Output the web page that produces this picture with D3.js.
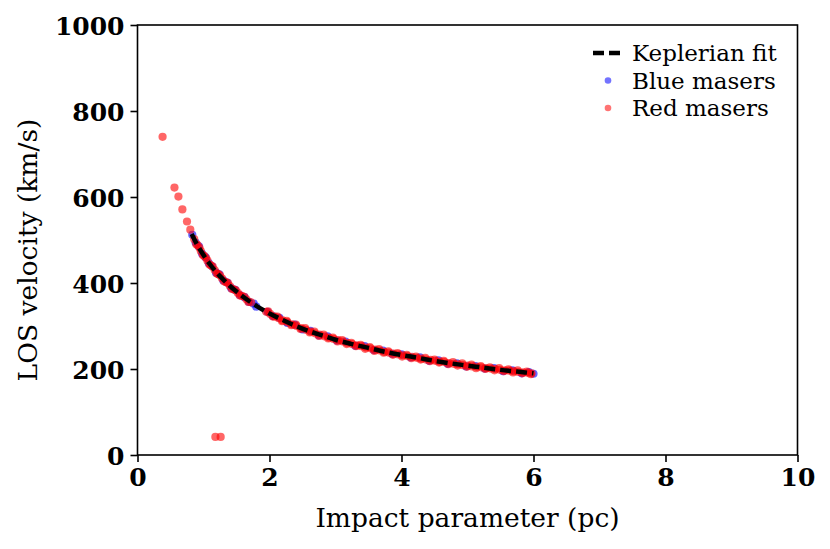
<!DOCTYPE html>
<html>
<head>
<meta charset="utf-8">
<script src="https://cdn.jsdelivr.net/npm/d3@7"></script>
<style>
  body { margin: 0; background: #fff; }
  text { font-family: "DejaVu Serif", "Liberation Serif", serif; }
</style>
</head>
<body>
<div id="chart"></div>
<script>
// Keplerian rotation curve: LOS velocity vs impact parameter

const xTicks = [0, 2, 4, 6, 8, 10];
const yTicks = [0, 200, 400, 600, 800, 1000];

// Keplerian fit (dashed line)
const fitR = [0.82, 0.9, 1.0, 1.1, 1.2, 1.3, 1.4, 1.5, 1.6, 1.7, 1.8, 2.0, 2.2, 2.4, 2.6, 2.8, 3.0,
  3.25, 3.5, 3.75, 4.0, 4.25, 4.5, 4.75, 5.0, 5.25, 5.5, 5.75, 6.0];
const fitV = [514, 490, 465, 443, 424, 408, 393, 380, 368, 357, 347, 329, 314, 300, 288, 278, 268,
  258, 249, 240, 232.5, 226, 219, 213, 208, 203, 198, 194, 190];

// Blue masers
const blueR = [0.83, 0.88, 0.93, 0.98, 1.03, 1.08, 1.13, 1.19, 1.24, 1.30, 1.36, 1.42, 1.48, 1.55,
  1.62, 1.69, 1.76, 1.80, 1.97, 2.05, 2.15, 2.27, 2.38, 2.50, 2.62, 2.75, 2.88, 3.02, 3.15, 3.30,
  3.44, 3.58, 3.72, 3.86, 4.00, 4.14, 4.28, 4.42, 4.56, 4.70, 4.84, 4.98, 5.12, 5.26, 5.40, 5.54,
  5.68, 5.82, 5.93, 6.00];
const blueV = [512, 494, 485, 468, 460, 446, 439, 424, 420, 406, 401, 388, 384, 372,
  367, 356, 352, 345, 333, 323, 319, 307, 303, 292, 289, 278, 276, 266, 264, 254,
  253, 244, 243, 235, 234, 227, 227, 219, 220, 212, 213, 206, 207, 201, 202, 195,
  197, 190, 193, 189];

// Red masers
const redR = [0.38, 0.56, 0.62, 0.68, 0.75, 0.80, 0.86, 0.91, 0.96, 1.01, 1.06, 1.11, 1.17, 1.22,
  1.28, 1.34, 1.40, 1.46, 1.52, 1.58, 1.65, 1.72,
  0.89, 0.94, 0.99, 1.04, 1.09, 1.14, 1.20, 1.25, 1.31, 1.37, 1.43, 1.49, 1.55, 1.62, 1.68,
  1.95, 2.01, 2.08, 2.14, 2.20, 2.27, 2.34, 2.41, 2.48, 2.55, 2.62, 2.69, 2.76, 2.83, 2.90, 2.97,
  3.04, 3.11, 3.18, 3.25, 3.32, 3.39, 3.46, 3.53, 3.60, 3.67, 3.74, 3.81, 3.88, 3.95, 4.02, 4.09,
  4.16, 4.23, 4.30, 4.37, 4.44, 4.51, 4.58, 4.65, 4.72, 4.79, 4.86, 4.93, 5.00, 5.07, 5.14, 5.21,
  5.28, 5.35, 5.42, 5.49, 5.56, 5.63, 5.70, 5.77, 5.84, 5.91, 5.97,
  1.98, 2.05, 2.12, 2.19, 2.26, 2.33, 2.40, 2.47, 2.54, 2.61, 2.68, 2.75, 2.82, 2.89, 2.96,
  3.03, 3.10, 3.17, 3.24, 3.31, 3.38, 3.45, 3.52, 3.59, 3.66, 3.73, 3.80, 3.87, 3.94, 4.01,
  4.08, 4.15, 4.22, 4.29, 4.36, 4.43, 4.50, 4.57, 4.64, 4.71, 4.78, 4.85, 4.92, 4.99, 5.06,
  5.13, 5.20, 5.27, 5.34, 5.41, 5.48, 5.55, 5.62, 5.69, 5.76, 5.83, 5.90, 5.96,
  1.18, 1.26];
const redV = [740, 622, 601, 571, 543, 524, 502, 488, 474, 463, 452, 441, 430, 421,
  411, 402, 393, 385, 377, 370, 362, 355,
  490, 482, 465, 458, 443, 438, 422, 418, 404, 400, 386, 383, 371, 368, 356,
  333, 328, 322, 318, 313, 309, 304, 300, 295, 291, 287, 283, 280, 276, 273, 270,
  267, 264, 261, 258, 255, 253, 250, 248, 245, 243, 240, 238, 236, 234, 232, 230,
  228, 226, 224, 222, 221, 219, 217, 216, 214, 212, 211, 209, 208, 206, 205, 204,
  202, 201, 200, 198, 197, 196, 195, 193, 192, 191, 190,
  334, 322, 322, 311, 312, 302, 303, 293, 295, 285, 287, 277, 280, 271, 273,
  264, 267, 258, 261, 253, 256, 247, 251, 242, 246, 238, 241, 233, 237, 229,
  233, 225, 229, 222, 226, 218, 222, 215, 219, 211, 216, 208, 213, 205, 210,
  202, 207, 200, 204, 197, 202, 195, 199, 192, 197, 190, 194, 188,
  42, 42];

const width = 830;
const height = 549;
const margin = { top: 25, right: 32.5, bottom: 94, left: 137.5 };
const markerR = 4.1;

const svg = d3.select("#chart")
  .append("svg")
  .attr("width", width)
  .attr("height", height);

const xScale = d3.scaleLinear()
  .domain([0, 10])
  .range([margin.left, width - margin.right]);

const yScale = d3.scaleLinear()
  .domain([0, 1000])
  .range([height - margin.bottom, margin.top]);

// Axes
const xAxis = svg.append("g")
  .attr("transform", `translate(0,${height - margin.bottom})`)
  .call(d3.axisBottom(xScale).tickValues(xTicks).tickSize(7).tickPadding(6).tickFormat(d3.format("d")));

const yAxis = svg.append("g")
  .attr("transform", `translate(${margin.left},0)`)
  .call(d3.axisLeft(yScale).tickValues(yTicks).tickSize(7).tickPadding(6).tickFormat(d3.format("d")));

[xAxis, yAxis].forEach(g => {
  g.select(".domain").remove();
  g.selectAll(".tick line").attr("stroke", "#000").attr("stroke-width", 1.6);
  g.selectAll(".tick text")
    .attr("fill", "#000")
    .style("font-size", "25px")
    .style("font-weight", "bold")
    .style("font-family", "'DejaVu Serif', serif");
});
yAxis.selectAll(".tick text").attr("dy", "0.36em");

// Keplerian fit line
const fitData = fitR.map((r, i) => [r, fitV[i]]);
const line = d3.line()
  .x(d => xScale(d[0]))
  .y(d => yScale(d[1]))
  .curve(d3.curveMonotoneX);

// Blue masers
svg.append("g")
  .selectAll("circle")
  .data(blueR.map((r, i) => [r, blueV[i]]))
  .enter()
  .append("circle")
  .attr("cx", d => xScale(d[0]))
  .attr("cy", d => yScale(d[1]))
  .attr("r", markerR)
  .attr("fill", "#0000ff")
  .attr("fill-opacity", 0.6);

// Red masers
svg.append("g")
  .selectAll("circle")
  .data(redR.map((r, i) => [r, redV[i]]))
  .enter()
  .append("circle")
  .attr("cx", d => xScale(d[0]))
  .attr("cy", d => yScale(d[1]))
  .attr("r", markerR)
  .attr("fill", "#ff0000")
  .attr("fill-opacity", 0.6);

svg.append("path")
  .datum(fitData)
  .attr("d", line)
  .attr("fill", "none")
  .attr("stroke", "#000")
  .attr("stroke-width", 4.5)
  .attr("stroke-dasharray", "11,5");

// Frame
svg.append("rect")
  .attr("x", margin.left)
  .attr("y", margin.top)
  .attr("width", width - margin.left - margin.right)
  .attr("height", height - margin.top - margin.bottom)
  .attr("fill", "none")
  .attr("stroke", "#000")
  .attr("stroke-width", 1.6);

// Axis labels
svg.append("text")
  .attr("x", (margin.left + width - margin.right) / 2)
  .attr("y", 527)
  .attr("text-anchor", "middle")
  .style("font-size", "26.5px")
  .text("Impact parameter (pc)");

svg.append("text")
  .attr("transform", `translate(37,${(margin.top + height - margin.bottom) / 2 + 10}) rotate(-90)`)
  .attr("text-anchor", "middle")
  .style("font-size", "26.5px")
  .text("LOS velocity (km/s)");

// Legend
const legX = 593;
const legY = 53;
const legGap = 27.5;

svg.append("line")
  .attr("x1", legX)
  .attr("x2", legX + 30)
  .attr("y1", legY)
  .attr("y2", legY)
  .attr("stroke", "#000")
  .attr("stroke-width", 4.5)
  .attr("stroke-dasharray", "11,5");

const legItems = [
  { label: "Keplerian fit" },
  { label: "Blue masers", color: "#0000ff" },
  { label: "Red masers", color: "#ff0000" }
];

legItems.forEach((item, i) => {
  if (item.color) {
    svg.append("circle")
      .attr("cx", legX + 15)
      .attr("cy", legY + i * legGap)
      .attr("r", 3.3)
      .attr("fill", item.color)
      .attr("fill-opacity", 0.55);
  }
  svg.append("text")
    .attr("x", legX + 39)
    .attr("y", legY + i * legGap)
    .attr("dy", "0.35em")
    .style("font-size", "23px")
    .text(item.label);
});
</script>
</body>
</html>
